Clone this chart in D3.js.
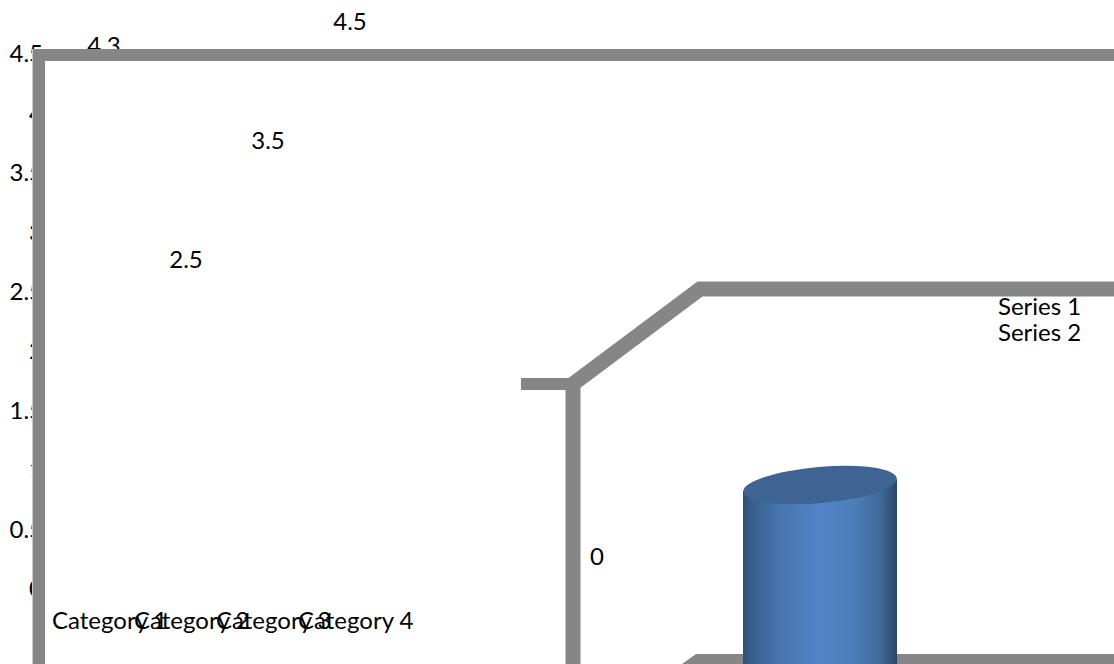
<!DOCTYPE html>
<html>
<head>
<meta charset="utf-8">
<script src="https://cdn.jsdelivr.net/npm/d3@7"></script>
<style>
  html, body { margin: 0; padding: 0; background: #fff; overflow: hidden; }
  text { font-family: "Lato", "Open Sans", sans-serif; font-size: 24px; fill: #000; }
</style>
</head>
<body>
<script>
const categories = ["Category 1", "Category 2", "Category 3", "Category 4"];
const series1 = [4.3, 2.5, 3.5, 4.5];
const axisTicks = [0, 0.5, 1, 1.5, 2, 2.5, 3, 3.5, 4, 4.5];
const legendNames = ["Series 1", "Series 2"];
const depthTicks = [0];
const cylinderValue = 4.3;

const width = 1114, height = 664;
const wallColor = "#868686";

const svg = d3.select("body").append("svg")
  .attr("width", width).attr("height", height)
  .style("display", "block");

const defs = svg.append("defs");
const shade = defs.append("linearGradient").attr("id", "cylinderSide");
[[0, "#2f4f78"], [0.07, "#3a6191"], [0.25, "#4877b1"], [0.5, "#5184c6"], [0.72, "#4c7eb8"],
 [0.9, "#3f6897"], [1, "#2a4568"]].forEach(([o, c]) => {
  shade.append("stop").attr("offset", o).attr("stop-color", c);
});

// Flat chart: value axis, category axis and value labels
const y = d3.scaleLinear().domain([0, 4.5]).range([589, 54]);
const x = d3.scaleBand().domain(categories).range([52, 380]).padding(0);

const yAxis = svg.append("g").attr("transform", "translate(43,0)")
  .call(d3.axisLeft(y).tickValues(axisTicks).tickSize(0).tickPadding(0)
    .tickFormat(d => String(d)));
yAxis.select(".domain").remove();

const xAxis = svg.append("g").attr("transform", "translate(0,621)")
  .call(d3.axisBottom(x).tickSize(0).tickPadding(0));
xAxis.select(".domain").remove();
xAxis.selectAll("text")
  .attr("text-anchor", "start")
  .attr("x", -x.bandwidth() / 2)
  .attr("y", 0)
  .attr("dy", "0.35em");

svg.append("g").selectAll("text").data(series1).join("text")
  .attr("x", (d, i) => x(categories[i]) + 52)
  .attr("y", d => y(d) - 32)
  .attr("dy", "0.35em")
  .attr("text-anchor", "middle")
  .text(d => d);

// Cylinder chart: floor sits behind the column
const cy = d3.scaleLinear().domain([0, cylinderValue]).range([700, 485]);
const cx = d3.scaleBand().domain([categories[0]]).range([743, 897]);

svg.append("path")
  .attr("d", "M696,654L1114,654L1114,664L682,664Z")
  .attr("fill", wallColor);

const bodyLeft = cx(categories[0]), bodyRight = bodyLeft + cx.bandwidth();
const rx = cx.bandwidth() / 2, ry = 18, tilt = -5;
const topY = cy(cylinderValue);
const midX = (bodyLeft + bodyRight) / 2;

svg.append("path")
  .attr("d", `M${bodyLeft},${topY + 6}L${bodyRight},${topY - 6}L${bodyRight},${height}L${bodyLeft},${height}Z`)
  .attr("fill", "url(#cylinderSide)");
svg.append("ellipse")
  .attr("cx", midX).attr("cy", topY)
  .attr("rx", rx).attr("ry", ry)
  .attr("transform", `rotate(${tilt} ${midX} ${topY})`)
  .attr("fill", "#3d6493");

// Back wall frames
const frames = svg.append("g").attr("fill", "none").attr("stroke", wallColor);
frames.append("path")
  .attr("d", "M1114,55L39,55L39,664")
  .attr("stroke-width", 12);
svg.append("line").attr("x1", 32.5).attr("x2", 32.5).attr("y1", 49).attr("y2", 664)
  .attr("stroke", "#c9c9c9").attr("stroke-width", 1);
frames.append("path")
  .attr("d", "M521,384L573,384")
  .attr("stroke-width", 12);
frames.append("path")
  .attr("d", "M1114,289L700,289L573,384L573,664")
  .attr("stroke-width", 15)
  .attr("stroke-linejoin", "miter");

svg.append("g").selectAll("text").data(depthTicks).join("text")
  .attr("x", 597).attr("y", 557).attr("dy", "0.35em")
  .attr("text-anchor", "middle")
  .text(d => d);

svg.append("g").selectAll("text").data(legendNames).join("text")
  .attr("x", 998)
  .attr("y", (d, i) => 307 + i * 25.5)
  .attr("dy", "0.35em")
  .text(d => d);
</script>
</body>
</html>
